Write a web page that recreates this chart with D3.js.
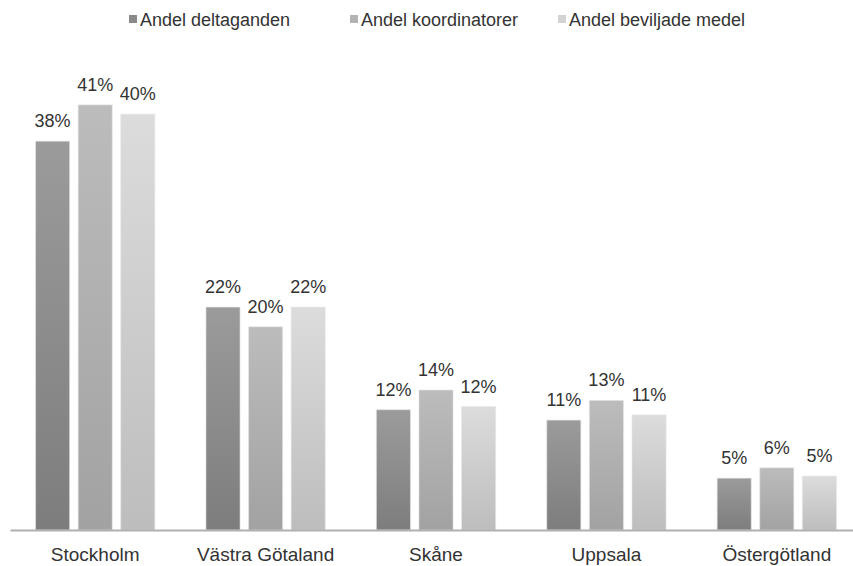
<!DOCTYPE html>
<html>
<head>
<meta charset="utf-8">
<script src="https://cdn.jsdelivr.net/npm/d3@7"></script>
<style>
  html, body { margin: 0; padding: 0; background: #fff; }
  svg { display: block; }
  text { font-family: "Liberation Sans", Arial, sans-serif; fill: #333; }
</style>
</head>
<body>
<svg id="chart" width="853" height="566"></svg>
<script>
const categories = ["Stockholm", "Västra Götaland", "Skåne", "Uppsala", "Östergötland"];
const seriesNames = ["Andel deltaganden", "Andel koordinatorer", "Andel beviljade medel"];
const deltaganden   = [37.5, 21.5, 11.6, 10.6, 5.0];
const koordinatorer = [41.0, 19.6, 13.5, 12.5, 6.0];
const beviljade     = [40.1, 21.5, 11.9, 11.1, 5.2];
const seriesValues = [deltaganden, koordinatorer, beviljade];
const seriesColors = [
  {top: "#9b9b9b", bottom: "#7d7d7d", legend: "#8a8a8a"},
  {top: "#bcbcbc", bottom: "#a2a2a2", legend: "#b3b3b3"},
  {top: "#dcdcdc", bottom: "#bdbdbd", legend: "#d3d3d3"}
];

const svg = d3.select("#chart");
const W = 853, H = 566;

const x0 = d3.scaleBand().domain(categories).range([10, 862])
  .paddingInner(0.3).paddingOuter(0.15);
const x1 = d3.scaleBand().domain(d3.range(seriesNames.length))
  .range([0, x0.bandwidth()]).paddingInner(0.2).paddingOuter(0);
const y = d3.scaleLinear().domain([0, 45]).range([530, 63.4]);

// gradients
const defs = svg.append("defs");
seriesColors.forEach((c, i) => {
  const g = defs.append("linearGradient").attr("id", "grad" + i)
    .attr("x1", 0).attr("y1", 0).attr("x2", 0).attr("y2", 1);
  g.append("stop").attr("offset", "0%").attr("stop-color", c.top);
  g.append("stop").attr("offset", "100%").attr("stop-color", c.bottom);
});

// bars
const groups = svg.append("g").selectAll("g")
  .data(categories).join("g")
  .attr("transform", d => `translate(${x0(d)},0)`);

groups.each(function(cat, ci) {
  const g = d3.select(this);
  seriesValues.forEach((vals, si) => {
    const v = vals[ci];
    g.append("rect")
      .attr("x", x1(si))
      .attr("y", y(v))
      .attr("width", x1.bandwidth())
      .attr("height", y(0) - y(v))
      .attr("fill", `url(#grad${si})`)
      .attr("stroke", "#e6e6e6")
      .attr("stroke-opacity", 0.6)
      .attr("stroke-width", 1);
    g.append("text")
      .attr("x", x1(si) + x1.bandwidth() / 2)
      .attr("y", y(v) - 14)
      .attr("text-anchor", "middle")
      .style("font-size", "18px")
      .text(Math.round(v) + "%");
  });
});

// axis
const axis = svg.append("g")
  .attr("transform", `translate(0,${y(0)})`)
  .call(d3.axisBottom(x0).tickSize(0).tickPadding(18));
axis.select(".domain").attr("stroke", "#b0b0b0").attr("stroke-width", 2);
axis.selectAll(".tick text")
  .style("font-size", "19px")
  .style("font-family", "'Liberation Sans', Arial, sans-serif")
  .attr("fill", "#333");

// legend
const legendX = [129, 350, 558];
const legend = svg.append("g");
seriesNames.forEach((name, i) => {
  legend.append("rect")
    .attr("x", legendX[i]).attr("y", 15)
    .attr("width", 8).attr("height", 8)
    .attr("fill", seriesColors[i].legend);
  legend.append("text")
    .attr("x", legendX[i] + 11).attr("y", 26)
    .style("font-size", "18px")
    .text(name);
});
</script>
</body>
</html>
